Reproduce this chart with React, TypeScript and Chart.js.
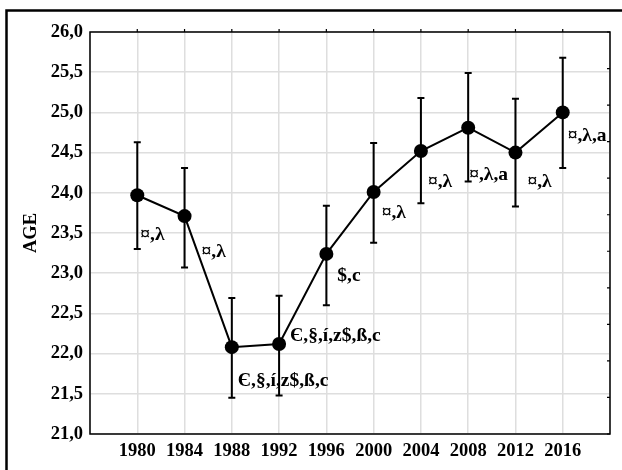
import React, { useEffect, useRef } from 'react';
import { Chart, registerables } from 'chart.js';

Chart.register(...registerables);

// ---- data ----
const years = [1980, 1984, 1988, 1992, 1996, 2000, 2004, 2008, 2012, 2016];
const meanAge = [23.97, 23.71, 22.08, 22.12, 23.24, 24.01, 24.52, 24.81, 24.5, 25.0];
const lowerCI = [23.3, 23.07, 21.45, 21.48, 22.6, 23.38, 23.87, 24.14, 23.83, 24.31];
const upperCI = [24.63, 24.31, 22.69, 22.72, 23.84, 24.62, 25.18, 25.49, 25.17, 25.68];
const pointLabels = ['¤,λ', '¤,λ', 'Є,§,í,z$,ß,c', 'Є,§,í,z$,ß,c', '$,c', '¤,λ', '¤,λ', '¤,λ,a', '¤,λ', '¤,λ,a'];
const yMin = 21;
const yMax = 26;
const yStep = 0.5;
const xMin = 1976;
const xMax = 2020;
const xStep = 4;
const rightAxisSteps = 11;
const yTitle = 'AGE';

// label placement (pixel offsets from each point: left edge, vertical centre)
const labelOffsets: [number, number][] = [
  [3, 40], [17, 36], [6, 34], [11, -8], [11, 22], [8, 21], [7, 31], [1, 47], [12, 29], [5, 24],
];

const FONT = '"Liberation Serif", "Times New Roman", serif';

const overlayPlugin = {
  id: 'overlay',
  beforeDatasetsDraw(chart: any) {
    const { ctx, scales } = chart;
    const xs = scales.x;
    const ys = scales.y;
    ctx.save();
    ctx.strokeStyle = '#000';
    ctx.lineWidth = 2;
    years.forEach((yr, i) => {
      const x = xs.getPixelForValue(yr);
      const yl = ys.getPixelForValue(lowerCI[i]);
      const yh = ys.getPixelForValue(upperCI[i]);
      ctx.beginPath();
      ctx.moveTo(x, yl);
      ctx.lineTo(x, yh);
      ctx.moveTo(x - 3.5, yl);
      ctx.lineTo(x + 3.5, yl);
      ctx.moveTo(x - 3.5, yh);
      ctx.lineTo(x + 3.5, yh);
      ctx.stroke();
    });
    ctx.restore();
  },
  afterDatasetsDraw(chart: any) {
    const { ctx, scales } = chart;
    const xs = scales.x;
    const ys = scales.y;
    ctx.save();
    ctx.fillStyle = '#000';
    ctx.font = `bold 19.5px ${FONT}`;
    ctx.textAlign = 'left';
    ctx.textBaseline = 'middle';
    years.forEach((yr, i) => {
      const x = xs.getPixelForValue(yr);
      const y = ys.getPixelForValue(meanAge[i]);
      const [dx, dy] = labelOffsets[i];
      ctx.fillText(pointLabels[i], x + dx, y + dy);
    });
    ctx.restore();
  },
  afterDraw(chart: any) {
    const { ctx, chartArea, scales } = chart;
    const { left, top, right, bottom } = chartArea;
    ctx.save();
    ctx.strokeStyle = '#000';
    // plot frame
    ctx.lineWidth = 1.5;
    ctx.strokeRect(left, top, right - left, bottom - top);
    // top tick marks
    ctx.lineWidth = 1.2;
    ctx.beginPath();
    years.forEach((yr) => {
      const x = scales.x.getPixelForValue(yr);
      ctx.moveTo(x, top - 3);
      ctx.lineTo(x, top);
    });
    // right inner tick marks (secondary axis)
    const y2 = scales.y2;
    if (y2 && y2.ticks) {
      y2.ticks.forEach((t: any) => {
        const y = y2.getPixelForValue(t.value);
        ctx.moveTo(right - 3, y);
        ctx.lineTo(right, y);
      });
    }
    ctx.stroke();
    // outer frame (left and top edges visible)
    ctx.lineWidth = 2.5;
    ctx.beginPath();
    ctx.moveTo(6.5, chart.height);
    ctx.lineTo(6.5, 10.5);
    ctx.lineTo(chart.width, 10.5);
    ctx.stroke();
    ctx.restore();
  },
};

export default function App() {
  const canvasRef = useRef<HTMLCanvasElement | null>(null);

  useEffect(() => {
    if (!canvasRef.current) return;
    const chart = new Chart(canvasRef.current, {
      type: 'line',
      data: {
        datasets: [
          {
            data: years.map((yr, i) => ({ x: yr, y: meanAge[i] })),
            borderColor: '#000',
            borderWidth: 2,
            backgroundColor: '#000',
            pointBackgroundColor: '#000',
            pointBorderColor: '#000',
            pointRadius: 7,
            pointBorderWidth: 0,
            tension: 0,
            fill: false,
          },
        ],
      },
      options: {
        responsive: false,
        animation: false,
        events: [],
        layout: { padding: { left: 0, top: 32, right: 12, bottom: 0 } },
        plugins: {
          legend: { display: false },
          tooltip: { enabled: false },
          title: { display: false },
        },
        scales: {
          x: {
            type: 'linear',
            min: xMin,
            max: xMax,
            afterBuildTicks: (scale: any) => {
              const t = [];
              for (let v = xMin; v <= xMax; v += xStep) t.push({ value: v });
              scale.ticks = t;
            },
            afterFit: (scale: any) => {
              scale.height = 36;
            },
            grid: { color: '#dedede', lineWidth: 1.5, drawTicks: false },
            border: { display: false },
            ticks: {
              padding: 6,
              color: '#000',
              maxRotation: 0,
              autoSkip: false,
              font: { family: FONT, size: 18.5, weight: 'bold' },
              callback: (v: any) => (v === xMin || v === xMax ? '' : String(v)),
            },
          },
          y: {
            type: 'linear',
            position: 'left',
            min: yMin,
            max: yMax,
            afterFit: (scale: any) => {
              scale.width = 90;
            },
            grid: { color: '#dedede', lineWidth: 1.5, drawTicks: false },
            border: { display: false },
            ticks: {
              stepSize: yStep,
              padding: 7,
              color: '#000',
              font: { family: FONT, size: 18.5, weight: 'bold' },
              callback: (v: any) => Number(v).toFixed(1).replace('.', ','),
            },
            title: {
              display: true,
              text: yTitle,
              color: '#000',
              font: { family: FONT, size: 18.5, weight: 'bold' },
              padding: { top: 20, bottom: 0 },
            },
          },
          y2: {
            type: 'linear',
            position: 'right',
            min: 0,
            max: rightAxisSteps,
            afterFit: (scale: any) => {
              scale.width = 0;
            },
            grid: { drawOnChartArea: false, drawTicks: false },
            border: { display: false },
            ticks: { display: false, stepSize: 1 },
          },
        },
      } as any,
      plugins: [overlayPlugin],
    });
    return () => chart.destroy();
  }, []);

  return (
    <div
      style={{
        position: 'fixed',
        left: 0,
        top: 0,
        width: 622,
        height: 470,
        background: '#fff',
      }}
    >
      <canvas ref={canvasRef} width={622} height={470} style={{ display: 'block' }} />
    </div>
  );
}
